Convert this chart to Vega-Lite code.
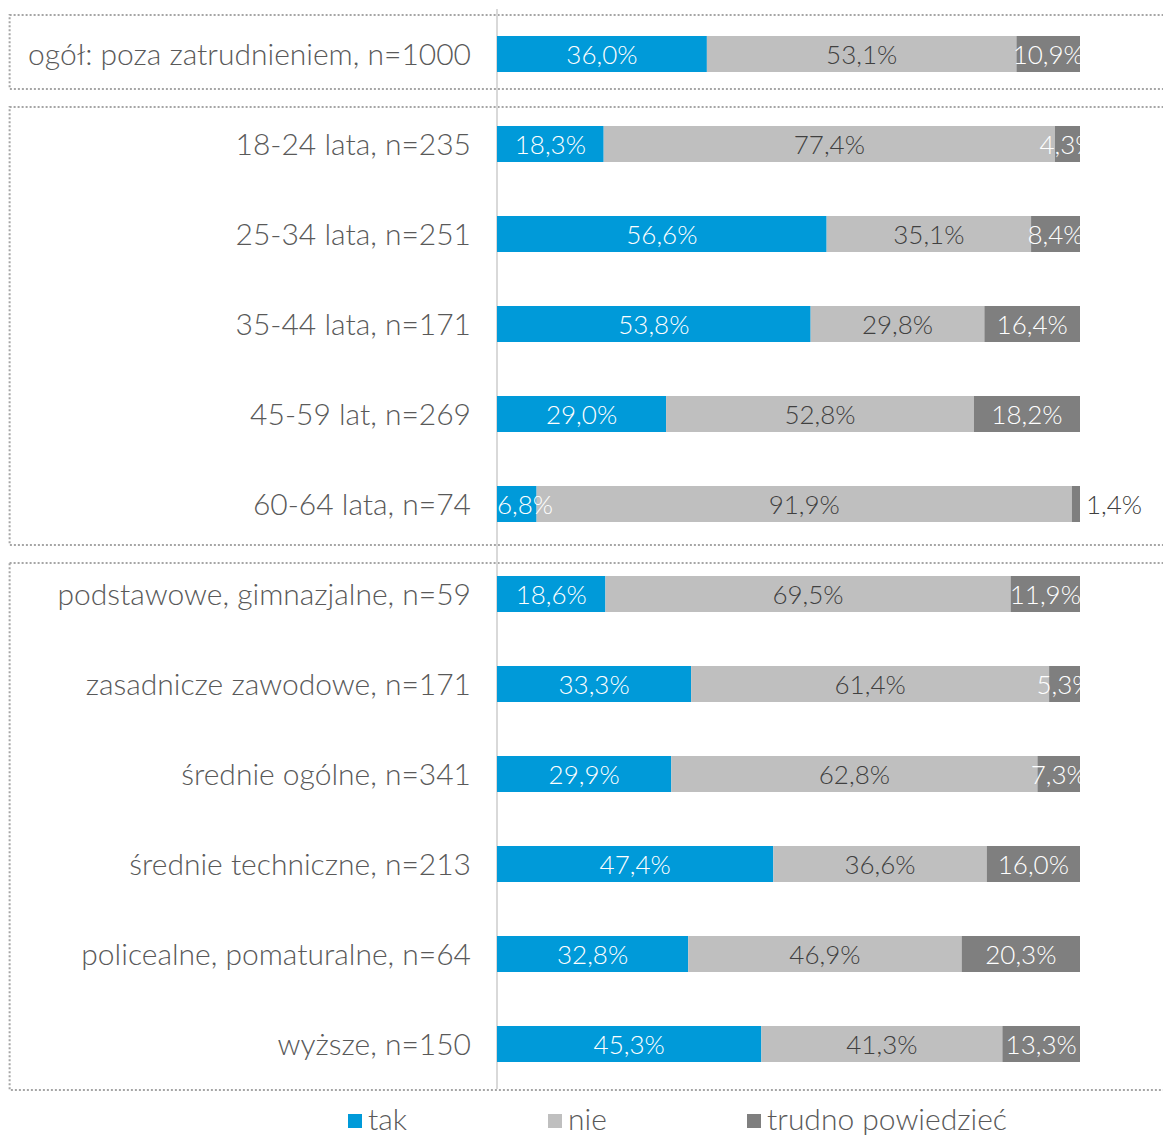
{
  "$schema": "https://vega.github.io/schema/vega-lite/v6.json",
  "width": 1163,
  "height": 1080,
  "autosize": {"type": "none"},
  "padding": {"top": 9, "left": 0, "right": 0, "bottom": 46},
  "background": "white",
  "config": {
    "view": {"stroke": null},
    "locale": {"number": {"decimal": ",", "thousands": " ", "grouping": [3], "currency": ["", " zł"]}}
  },
  "resolve": {"scale": {"y": "independent"}},
  "layer": [
    {
      "data": {"values": [
        {"grupa": "ogół", "gora": 0.0667, "dol": 0.8889},
        {"grupa": "wiek", "gora": 1.0889, "dol": 5.9556},
        {"grupa": "wykształcenie", "gora": 6.1556, "dol": 12.0111}
      ]},
      "mark": {"type": "rect", "filled": false, "stroke": "#a6a6a6", "strokeWidth": 2, "strokeDash": [2, 2]},
      "encoding": {
        "x": {"datum": -0.836, "type": "quantitative", "scale": {"domain": [-0.852487, 1.142367], "nice": false, "zero": false}, "axis": null},
        "x2": {"datum": 1.25},
        "y": {"field": "gora", "type": "quantitative", "scale": {"domain": [0, 12], "reverse": true, "nice": false, "zero": false}, "axis": null},
        "y2": {"field": "dol"}
      }
    },
    {
      "data": {"values": [{"os": 0}]},
      "mark": {"type": "rule", "color": "#d9d9d9", "strokeWidth": 2},
      "encoding": {
        "x": {"field": "os", "type": "quantitative", "axis": null}
      }
    },
    {
      "data": {"values": [
        {"kat": "ogół: poza zatrudnieniem, n=1000", "odp": "tak", "v": 0.360},
        {"kat": "ogół: poza zatrudnieniem, n=1000", "odp": "nie", "v": 0.531},
        {"kat": "ogół: poza zatrudnieniem, n=1000", "odp": "trudno powiedzieć", "v": 0.109},
        {"kat": "18-24 lata, n=235", "odp": "tak", "v": 0.183},
        {"kat": "18-24 lata, n=235", "odp": "nie", "v": 0.774},
        {"kat": "18-24 lata, n=235", "odp": "trudno powiedzieć", "v": 0.043},
        {"kat": "25-34 lata, n=251", "odp": "tak", "v": 0.566},
        {"kat": "25-34 lata, n=251", "odp": "nie", "v": 0.351},
        {"kat": "25-34 lata, n=251", "odp": "trudno powiedzieć", "v": 0.084},
        {"kat": "35-44 lata, n=171", "odp": "tak", "v": 0.538},
        {"kat": "35-44 lata, n=171", "odp": "nie", "v": 0.298},
        {"kat": "35-44 lata, n=171", "odp": "trudno powiedzieć", "v": 0.164},
        {"kat": "45-59 lat, n=269", "odp": "tak", "v": 0.290},
        {"kat": "45-59 lat, n=269", "odp": "nie", "v": 0.528},
        {"kat": "45-59 lat, n=269", "odp": "trudno powiedzieć", "v": 0.182},
        {"kat": "60-64 lata, n=74", "odp": "tak", "v": 0.068},
        {"kat": "60-64 lata, n=74", "odp": "nie", "v": 0.919},
        {"kat": "60-64 lata, n=74", "odp": "trudno powiedzieć", "v": 0.014},
        {"kat": "podstawowe, gimnazjalne, n=59", "odp": "tak", "v": 0.186},
        {"kat": "podstawowe, gimnazjalne, n=59", "odp": "nie", "v": 0.695},
        {"kat": "podstawowe, gimnazjalne, n=59", "odp": "trudno powiedzieć", "v": 0.119},
        {"kat": "zasadnicze zawodowe, n=171", "odp": "tak", "v": 0.333},
        {"kat": "zasadnicze zawodowe, n=171", "odp": "nie", "v": 0.614},
        {"kat": "zasadnicze zawodowe, n=171", "odp": "trudno powiedzieć", "v": 0.053},
        {"kat": "średnie ogólne, n=341", "odp": "tak", "v": 0.299},
        {"kat": "średnie ogólne, n=341", "odp": "nie", "v": 0.628},
        {"kat": "średnie ogólne, n=341", "odp": "trudno powiedzieć", "v": 0.073},
        {"kat": "średnie techniczne, n=213", "odp": "tak", "v": 0.474},
        {"kat": "średnie techniczne, n=213", "odp": "nie", "v": 0.366},
        {"kat": "średnie techniczne, n=213", "odp": "trudno powiedzieć", "v": 0.160},
        {"kat": "policealne, pomaturalne, n=64", "odp": "tak", "v": 0.328},
        {"kat": "policealne, pomaturalne, n=64", "odp": "nie", "v": 0.469},
        {"kat": "policealne, pomaturalne, n=64", "odp": "trudno powiedzieć", "v": 0.203},
        {"kat": "wyższe, n=150", "odp": "tak", "v": 0.453},
        {"kat": "wyższe, n=150", "odp": "nie", "v": 0.413},
        {"kat": "wyższe, n=150", "odp": "trudno powiedzieć", "v": 0.133}
      ]},
      "transform": [
        {"window": [{"op": "row_number", "as": "rn"}], "groupby": ["kat"]}
      ],
      "layer": [
        {
          "mark": {"type": "bar"},
          "encoding": {
            "y": {"field": "kat", "type": "nominal", "sort": null, "axis": null, "scale": {"type": "band", "paddingInner": 0.6, "paddingOuter": 0.3}},
            "x": {"field": "v", "type": "quantitative", "stack": "normalize", "axis": null, "scale": {"domain": [-0.852487, 1.142367], "nice": false, "zero": false}},
            "order": {"field": "rn", "type": "quantitative"},
            "color": {
              "field": "odp", "type": "nominal",
              "scale": {"domain": ["tak", "nie", "trudno powiedzieć"], "range": ["#009ad9", "#bfbfbf", "#7f7f7f"]},
              "legend": {
                "orient": "none", "legendX": 340, "legendY": 1097, "direction": "horizontal",
                "title": null, "symbolType": "square", "symbolSize": 196, "symbolStrokeWidth": 0,
                "labelFont": "Lato", "labelFontSize": 30, "labelFontWeight": 300, "labelColor": "#595959",
                "labelLimit": 0, "columnPadding": 132, "labelOffset": -2, "padding": 0
              }
            }
          }
        },
        {
          "mark": {"type": "text", "font": "Lato", "fontSize": 26, "fontWeight": 300, "baseline": "middle", "align": "center", "dy": 2},
          "encoding": {
            "y": {"field": "kat", "type": "nominal", "sort": null, "axis": null, "scale": {"type": "band", "paddingInner": 0.6, "paddingOuter": 0.3}},
            "x": {"field": "v", "type": "quantitative", "stack": "normalize", "bandPosition": 0.5, "axis": null},
            "detail": {"field": "odp", "type": "nominal"},
            "order": {"field": "rn", "type": "quantitative"},
            "text": {"condition": {"test": "datum.v < 0.02 || (datum.odp === 'tak' && datum.v < 0.1)", "value": ""}, "field": "v", "type": "quantitative", "format": ".1%"},
            "color": {"condition": {"test": "datum.odp === 'nie'", "value": "#404040"}, "value": "#ffffff"}
          }
        },
        {
          "mark": {"type": "text", "font": "Lato", "fontSize": 26, "fontWeight": 300, "baseline": "middle", "align": "left", "dy": 2, "color": "#ffffff"},
          "encoding": {
            "y": {"field": "kat", "type": "nominal", "sort": null, "axis": null, "scale": {"type": "band", "paddingInner": 0.6, "paddingOuter": 0.3}},
            "x": {"field": "v", "type": "quantitative", "stack": "normalize", "bandPosition": 0, "axis": null},
            "detail": {"field": "odp", "type": "nominal"},
            "order": {"field": "rn", "type": "quantitative"},
            "text": {"condition": {"test": "!(datum.odp === 'tak' && datum.v < 0.1)", "value": ""}, "field": "v", "type": "quantitative", "format": ".1%"}
          }
        },
        {
          "mark": {"type": "text", "font": "Lato", "fontSize": 26, "fontWeight": 300, "baseline": "middle", "align": "left", "dx": 6, "dy": 2, "color": "#404040"},
          "encoding": {
            "y": {"field": "kat", "type": "nominal", "sort": null, "axis": null, "scale": {"type": "band", "paddingInner": 0.6, "paddingOuter": 0.3}},
            "x": {"field": "v", "type": "quantitative", "stack": "normalize", "axis": null},
            "detail": {"field": "odp", "type": "nominal"},
            "order": {"field": "rn", "type": "quantitative"},
            "text": {"condition": {"test": "datum.v >= 0.02", "value": ""}, "field": "v", "type": "quantitative", "format": ".1%"}
          }
        },
        {
          "transform": [{"filter": "datum.odp === 'tak'"}],
          "mark": {"type": "text", "font": "Lato", "fontSize": 30, "fontWeight": 300, "baseline": "middle", "align": "right", "dx": -26, "dy": 2, "color": "#595959"},
          "encoding": {
            "y": {"field": "kat", "type": "nominal", "sort": null, "axis": null, "scale": {"type": "band", "paddingInner": 0.6, "paddingOuter": 0.3}},
            "x": {"datum": 0, "type": "quantitative"},
            "text": {"field": "kat", "type": "nominal"}
          }
        }
      ]
    }
  ]
}
